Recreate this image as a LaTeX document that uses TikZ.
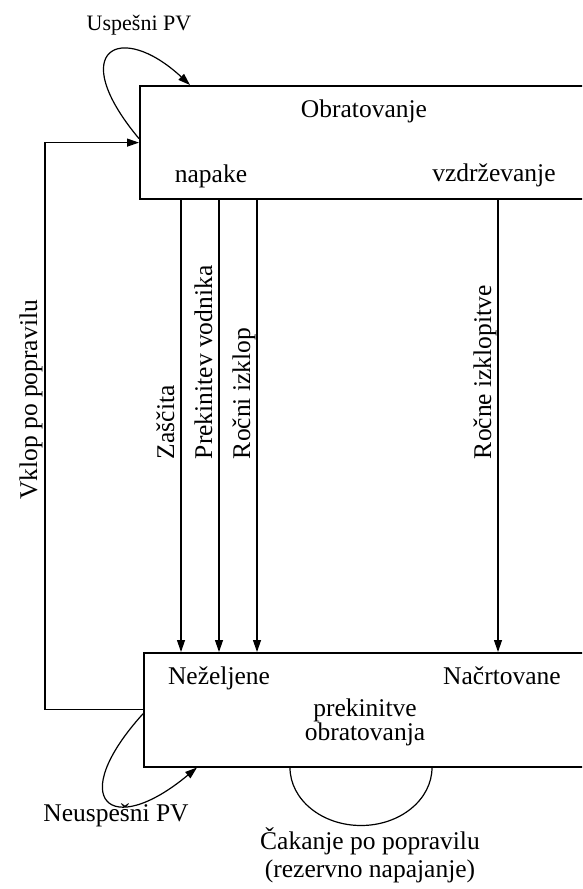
\documentclass[tikz,border=0pt]{standalone}
\usepackage{fontspec}
\setmainfont{Liberation Serif}
\usetikzlibrary{arrows.meta}
\tikzset{
  box/.style={draw, line width=1.5pt, inner sep=0pt, anchor=north west, minimum width=560pt},
  arr/.style={line width=1.2pt, -{Triangle[length=12pt,width=8pt]}},
  lbl/.style={rotate=90, anchor=base west, inner sep=0pt},
  txt/.style={anchor=base, inner sep=0pt},
}
\begin{document}
\begin{tikzpicture}[x=1pt,y=1pt, font=\fontsize{25.5}{30}\selectfont]
  \useasboundingbox (0,0) rectangle (582,-889);
  \clip (0,0) rectangle (582,-889);

  % Stanji
  \node[box, line width=2.2pt, minimum height=113pt] (obrat) at (139,-85) {};
  \node[box, minimum height=114pt] (prek) at (143,-652) {};

  % Besedila v stanjih
  \node[txt] (tobr) at (364,-117) {Obratovanje};
  \node[txt] (tnap) at (211,-182) {napake};
  \node[txt] (tvzd) at (494,-181) {vzdrževanje};
  \node[txt] (tnez) at (219,-684) {Neželjene};
  \node[txt] (tnac) at (502,-684) {Načrtovane};
  \node[txt] (tpre) at (365,-716) {prekinitve};
  \node[txt] (tobt) at (365,-740) {obratovanja};

  % Prehodi
  \foreach \dx/\nm/\lab in {42/zas/Zaščita, 80/prv/Prekinitev vodnika, 118/roc/Ročni izklop, 359/rci/Ročne izklopitve}{
    \coordinate (\nm) at ([xshift=\dx]obrat.south west);
    \draw[arr] (\nm) -- (\nm |- prek.north);
    \node[lbl] at ([xshift=-7,yshift=-259]\nm) {\lab};
  }

  % Vklop po popravilu
  \draw[arr] (prek.west) -- ++(-98,0) |- (obrat.west);
  \node[lbl] (tvkl) at (37,-500) {Vklop po popravilu};

  % Zanke
  \draw[arr] ([yshift=4]obrat.west) .. controls (65,-50) and (120,-20) .. ([xshift=51]obrat.north west);
  \node[txt, font=\fontsize{22}{26}\selectfont] (tusp) at (139,-30) {Uspešni PV};
  \draw[arr] ([yshift=-4]prek.west) .. controls (65,-800) and (110,-840) .. ([xshift=54]prek.south west);
  \node[txt] (tneu) at (116,-821) {Neuspešni PV};
  \draw[line width=1.2pt] ([xshift=147]prek.south west) arc[start angle=180, end angle=360, x radius=71, y radius=58];
  \node[txt] (tcak) at (370,-849) {Čakanje po popravilu};
  \node[txt] (trez) at (370,-877) {(rezervno napajanje)};
\end{tikzpicture}
\end{document}
